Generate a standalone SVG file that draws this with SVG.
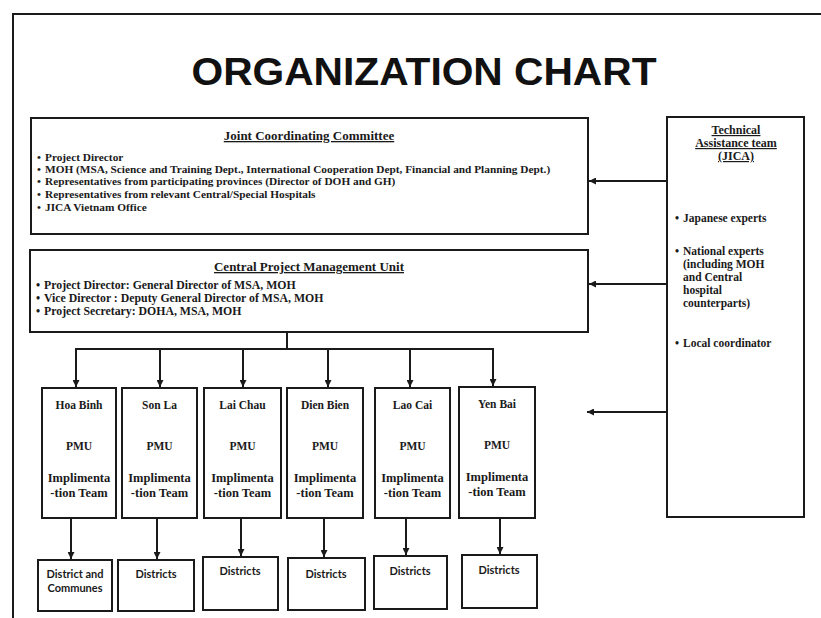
<svg xmlns="http://www.w3.org/2000/svg" width="821" height="618" viewBox="0 0 821 618">
<defs>
<marker id="ah" viewBox="0 0 10 10" refX="10" refY="5" markerWidth="7" markerHeight="7" markerUnits="userSpaceOnUse" orient="auto">
<path d="M0,0 L10,5 L0,10 z" fill="#1a1a1a"/>
</marker>
<style>
.box{fill:#fff;stroke:#1a1a1a;stroke-width:2}
.ln{fill:none;stroke:#1a1a1a;stroke-width:2}
.ar{fill:none;stroke:#1a1a1a;stroke-width:2;marker-end:url(#ah)}
.t{font-family:"Liberation Serif","DejaVu Serif",serif;font-weight:bold;font-size:11.3px;fill:#1a1a1a}
.c{font-family:"Liberation Serif","DejaVu Serif",serif;font-weight:bold;font-size:11.8px;fill:#1a1a1a}
.r{font-family:"Liberation Serif","DejaVu Serif",serif;font-weight:bold;font-size:11.5px;fill:#1a1a1a}
.h{font-family:"Liberation Serif","DejaVu Serif",serif;font-weight:bold;font-size:13px;fill:#1a1a1a;text-decoration:underline;text-anchor:middle}
.hr{font-family:"Liberation Serif","DejaVu Serif",serif;font-weight:bold;font-size:12px;fill:#1a1a1a;text-decoration:underline;text-anchor:middle}
.p{font-family:"Liberation Serif","DejaVu Serif",serif;font-weight:bold;font-size:11.5px;fill:#1a1a1a;text-anchor:middle}
.q{font-family:"Liberation Serif","DejaVu Serif",serif;font-weight:bold;font-size:12.5px;fill:#1a1a1a;text-anchor:middle}
.d{font-family:"Lato","Open Sans",sans-serif;font-weight:bold;font-size:11px;fill:#1a1a1a;text-anchor:middle}
</style>
</defs>
<rect width="821" height="618" fill="#fff"/>
<path class="ln" d="M13,618 V14 H821"/>
<text x="424" y="85" text-anchor="middle" font-family="Liberation Sans, Arial, sans-serif" font-weight="bold" font-size="39" textLength="465" lengthAdjust="spacingAndGlyphs" fill="#111">ORGANIZATION CHART</text>

<g id="jcc">
<rect class="box" x="31" y="118" width="557" height="116"/>
<text class="h" x="309" y="140">Joint Coordinating Committee</text>
<text class="t" x="37" y="161">•</text><text class="t" x="45" y="161">Project Director</text>
<text class="t" x="37" y="173">•</text><text class="t" x="45" y="173">MOH (MSA, Science and Training Dept., International Cooperation Dept, Financial and Planning Dept.)</text>
<text class="t" x="37" y="185">•</text><text class="t" x="45" y="185">Representatives from participating provinces (Director of DOH and GH)</text>
<text class="t" x="37" y="198">•</text><text class="t" x="45" y="198">Representatives from relevant Central/Special Hospitals</text>
<text class="t" x="37" y="211">•</text><text class="t" x="45" y="211">JICA Vietnam Office</text>
</g>

<g id="cpmu">
<rect class="box" x="30" y="250" width="558" height="82"/>
<text class="h" x="309" y="271">Central Project Management Unit</text>
<text class="c" x="36" y="289">•</text><text class="c" x="44" y="289">Project Director: General Director of MSA, MOH</text>
<text class="c" x="36" y="302">•</text><text class="c" x="44" y="302">Vice Director : Deputy General Director of MSA, MOH</text>
<text class="c" x="36" y="315">•</text><text class="c" x="44" y="315">Project Secretary: DOHA, MSA, MOH</text>
</g>

<g id="ta">
<rect class="box" x="667" y="117" width="137" height="400"/>
<text class="hr" x="736" y="134">Technical</text>
<text class="hr" x="736" y="147">Assistance team</text>
<text class="hr" x="736" y="160">(JICA)</text>
<text class="r" x="675" y="222">•</text><text class="r" x="683" y="222">Japanese experts</text>
<text class="r" x="675" y="255">•</text><text class="r" x="683" y="255">National experts</text>
<text class="r" x="683" y="268">(including MOH</text>
<text class="r" x="683" y="281">and Central</text>
<text class="r" x="683" y="294">hospital</text>
<text class="r" x="683" y="307">counterparts)</text>
<text class="r" x="675" y="347">•</text><text class="r" x="683" y="347">Local coordinator</text>
</g>

<g id="hoabinh">
<rect class="box" x="42" y="388" width="74" height="130"/>
<text class="p" x="79" y="409">Hoa Binh</text>
<text class="p" x="79" y="450">PMU</text>
<text class="q" x="79" y="482">Implimenta</text>
<text class="q" x="79" y="497">-tion Team</text>
</g>
<g id="sonla">
<rect class="box" x="122" y="388" width="75" height="130"/>
<text class="p" x="159.5" y="409">Son La</text>
<text class="p" x="159.5" y="450">PMU</text>
<text class="q" x="159.5" y="482">Implimenta</text>
<text class="q" x="159.5" y="497">-tion Team</text>
</g>
<g id="laichau">
<rect class="box" x="204" y="388" width="77" height="130"/>
<text class="p" x="242.5" y="409">Lai Chau</text>
<text class="p" x="242.5" y="450">PMU</text>
<text class="q" x="242.5" y="482">Implimenta</text>
<text class="q" x="242.5" y="497">-tion Team</text>
</g>
<g id="dienbien">
<rect class="box" x="287" y="388" width="76" height="130"/>
<text class="p" x="325" y="409">Dien Bien</text>
<text class="p" x="325" y="450">PMU</text>
<text class="q" x="325" y="482">Implimenta</text>
<text class="q" x="325" y="497">-tion Team</text>
</g>
<g id="laocai">
<rect class="box" x="375" y="388" width="75" height="130"/>
<text class="p" x="412.5" y="409">Lao Cai</text>
<text class="p" x="412.5" y="450">PMU</text>
<text class="q" x="412.5" y="482">Implimenta</text>
<text class="q" x="412.5" y="497">-tion Team</text>
</g>
<g id="yenbai">
<rect class="box" x="459" y="387" width="76" height="131"/>
<text class="p" x="497" y="408">Yen Bai</text>
<text class="p" x="497" y="449">PMU</text>
<text class="q" x="497" y="481">Implimenta</text>
<text class="q" x="497" y="496">-tion Team</text>
</g>

<g id="d1">
<rect class="box" x="38" y="560" width="74" height="51"/>
<text class="d" x="75" y="578">District and</text>
<text class="d" x="75" y="592">Communes</text>
</g>
<g id="d2">
<rect class="box" x="118" y="560" width="76" height="51"/>
<text class="d" x="156" y="578">Districts</text>
</g>
<g id="d3">
<rect class="box" x="203" y="557" width="75" height="53"/>
<text class="d" x="240" y="575">Districts</text>
</g>
<g id="d4">
<rect class="box" x="288" y="558" width="77" height="52"/>
<text class="d" x="326" y="578">Districts</text>
</g>
<g id="d5">
<rect class="box" x="374" y="556" width="73" height="53"/>
<text class="d" x="410" y="575">Districts</text>
</g>
<g id="d6">
<rect class="box" x="462" y="555" width="75" height="53"/>
<text class="d" x="499" y="574">Districts</text>
</g>

<g id="connectors">
<line class="ar" x1="667" y1="181" x2="589" y2="181"/>
<line class="ar" x1="667" y1="284" x2="589" y2="284"/>
<line class="ar" x1="667" y1="412" x2="587" y2="412"/>
<path class="ln" d="M287,332 V349 M75,349 H494"/>
<line class="ar" x1="76" y1="349" x2="76" y2="387"/>
<line class="ar" x1="160" y1="349" x2="160" y2="387"/>
<line class="ar" x1="243" y1="349" x2="243" y2="387"/>
<line class="ar" x1="328" y1="349" x2="328" y2="387"/>
<line class="ar" x1="410" y1="349" x2="410" y2="387"/>
<line class="ar" x1="493" y1="349" x2="493" y2="386"/>
<line class="ar" x1="71" y1="518" x2="71" y2="559"/>
<line class="ar" x1="157" y1="518" x2="157" y2="559"/>
<line class="ar" x1="241" y1="518" x2="241" y2="556"/>
<line class="ar" x1="324" y1="518" x2="324" y2="557"/>
<line class="ar" x1="406" y1="518" x2="406" y2="555"/>
<line class="ar" x1="500" y1="518" x2="500" y2="554"/>
</g>
</svg>
